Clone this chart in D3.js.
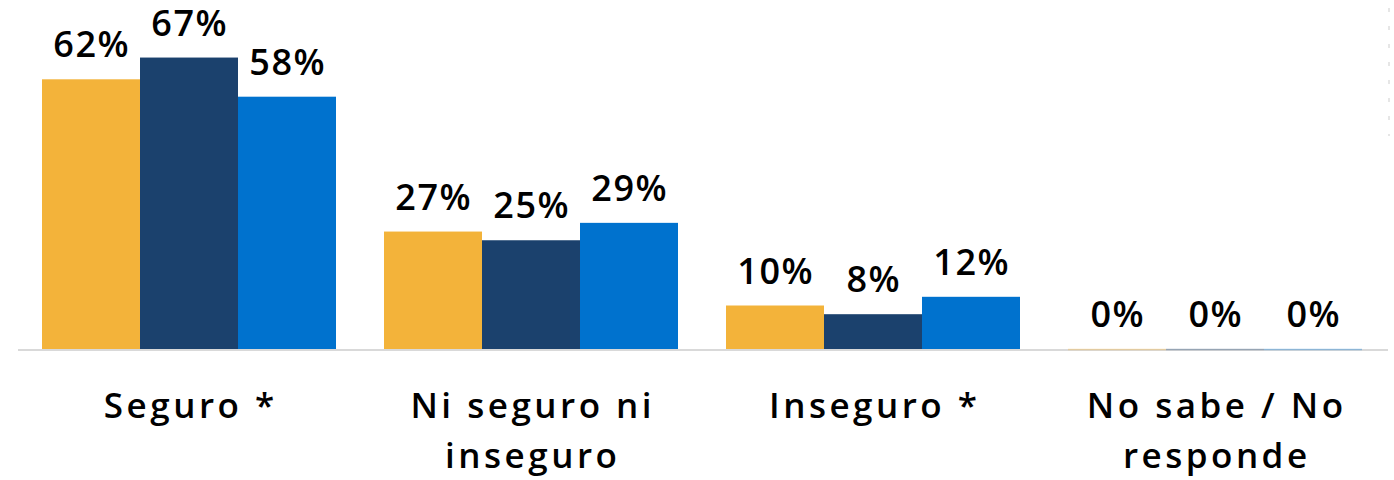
<!DOCTYPE html>
<html>
<head>
<meta charset="utf-8">
<script src="https://cdn.jsdelivr.net/npm/d3@7"></script>
<style>
  html, body { margin: 0; padding: 0; background: #ffffff; }
  svg { display: block; }
  text { font-family: 'Open Sans', 'Noto Sans', sans-serif; font-weight: 600; fill: #000; }
</style>
</head>
<body>
<div id="grafica"></div>
<script>
// datos
categorias = ['Seguro *', 'Ni seguro ni inseguro', 'Inseguro *', 'No sabe / No responde']
lineas_categoria = [['Seguro *'], ['Ni seguro ni', 'inseguro'], ['Inseguro *'], ['No sabe / No', 'responde']]
series = ['serie1', 'serie2', 'serie3']
serie1 = [62, 27, 10, 0]
serie2 = [67, 25, 8, 0]
serie3 = [58, 29, 12, 0]
etiquetas1 = ['62%', '27%', '10%', '0%']
etiquetas2 = ['67%', '25%', '8%', '0%']
etiquetas3 = ['58%', '29%', '12%', '0%']

ancho_total = 1394
alto_total = 480
base = 349

svg = d3.select('#grafica')
        .append('svg')
        .attr('width', ancho_total)
        .attr('height', alto_total)

colores = d3.scaleOrdinal()
            .domain(series)
            .range(['#F3B33A', '#1B416D', '#0072CE'])

x0 = d3.scaleBand()
       .domain(categorias)
       .range([42, 1362])
       .paddingInner(48 / 342)
       .paddingOuter(0)

x1 = d3.scaleBand()
       .domain(series)
       .range([0, x0.bandwidth()])

y = d3.scaleLinear()
      .domain([0, 100])
      .range([base, base - 435])

datos = []
categorias.forEach((c, i) => {
  datos.push({ cat: c, serie: 'serie1', valor: serie1[i], etiqueta: etiquetas1[i] })
  datos.push({ cat: c, serie: 'serie2', valor: serie2[i], etiqueta: etiquetas2[i] })
  datos.push({ cat: c, serie: 'serie3', valor: serie3[i], etiqueta: etiquetas3[i] })
})

// linea tenue a la derecha
svg.append('line')
   .attr('x1', 1389).attr('x2', 1389)
   .attr('y1', 8).attr('y2', 136)
   .attr('stroke', '#e6e6e6')
   .attr('stroke-width', 2)
   .attr('stroke-dasharray', '4,14')

// eje horizontal
svg.append('line')
   .attr('x1', 18).attr('x2', 1388)
   .attr('y1', base + 1).attr('y2', base + 1)
   .attr('stroke', '#d9d9d9')
   .attr('stroke-width', 2)

// barras
svg.selectAll('rect.barra')
   .data(datos)
   .enter()
   .append('rect')
   .attr('class', 'barra')
   .attr('x', (d) => x0(d.cat) + x1(d.serie))
   .attr('y', (d) => y(d.valor))
   .attr('width', x1.bandwidth())
   .attr('height', (d) => base - y(d.valor))
   .attr('fill', (d) => colores(d.serie))

// lineas de los ceros
svg.selectAll('line.cero')
   .data(datos.filter((d) => d.valor == 0))
   .enter()
   .append('line')
   .attr('class', 'cero')
   .attr('x1', (d) => x0(d.cat) + x1(d.serie))
   .attr('x2', (d) => x0(d.cat) + x1(d.serie) + x1.bandwidth())
   .attr('y1', base + 0.5).attr('y2', base + 0.5)
   .attr('stroke', (d) => colores(d.serie))
   .attr('stroke-opacity', 0.35)
   .attr('stroke-width', 1.5)

// etiquetas de valores
svg.selectAll('text.valor')
   .data(datos)
   .enter()
   .append('text')
   .attr('class', 'valor')
   .attr('x', (d) => x0(d.cat) + x1(d.serie) + x1.bandwidth() / 2 + 0.75)
   .attr('y', (d) => y(d.valor) - 22)
   .attr('text-anchor', 'middle')
   .attr('font-size', '36px')
   .attr('letter-spacing', '1.5px')
   .text((d) => d.etiqueta)

// etiquetas de categorias
cats = svg.selectAll('text.cat')
          .data(categorias)
          .enter()
          .append('text')
          .attr('class', 'cat')
          .attr('x', (d) => x0(d) + x0.bandwidth() / 2 + 1.75)
          .attr('y', 418)
          .attr('text-anchor', 'middle')
          .attr('font-size', '35px')
          .attr('letter-spacing', '3.5px')

cats.selectAll('tspan')
    .data((d, i) => lineas_categoria[i])
    .enter()
    .append('tspan')
    .attr('x', function () { return d3.select(this.parentNode).attr('x') })
    .attr('dy', (d, i) => i == 0 ? 0 : 50)
    .text((d) => d)
</script>
</body>
</html>
